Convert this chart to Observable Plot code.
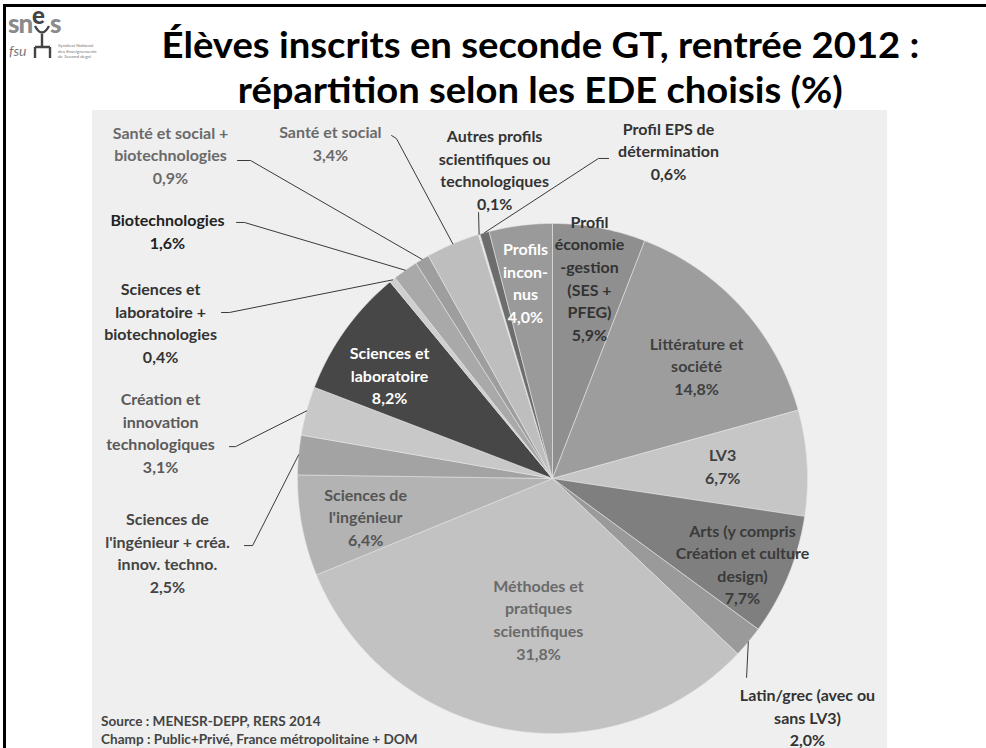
<!DOCTYPE html>
<html><head><meta charset="utf-8">
<script src="https://cdn.jsdelivr.net/npm/d3@7"></script>
<script src="https://cdn.jsdelivr.net/npm/@observablehq/plot@0.6"></script>
<style>
html,body{margin:0;padding:0;background:#fff;}
body{width:986px;height:748px;position:relative;overflow:hidden;font-family:Lato,"DejaVu Sans",sans-serif;}
#frame{position:absolute;left:3px;top:4px;width:990px;height:760px;border-top:3px solid #000;border-left:3px solid #000;}
.title{position:absolute;left:0;width:1080px;text-align:center;font-weight:700;font-size:37px;line-height:44px;color:#000;white-space:nowrap;}
.title span{display:inline-block;transform-origin:center;}
#panel{position:absolute;left:92px;top:110px;width:795px;height:638px;background:#efefef;}
#chart{position:absolute;left:0;top:0;}
.src{position:absolute;left:9px;font-weight:700;font-size:13.6px;color:#444;white-space:nowrap;}
#logo{position:absolute;left:0;top:0;}
</style></head>
<body>
<div id="frame"></div>
<svg id="logo" width="112" height="66" viewBox="0 0 112 66">
  <rect x="6" y="7" width="100" height="57" fill="#fff"/>
  <text x="8" y="33" font-family="Lato" font-weight="900" font-size="26" fill="#8a8a8a" letter-spacing="-1">sn</text>
  <text x="32" y="24" font-family="Lato" font-weight="900" font-size="24" fill="#444">e</text>
  <text x="50" y="33" font-family="Lato" font-weight="900" font-size="26" fill="#8a8a8a">s</text>
  <path d="M35 26 Q42 39 49 26 M42 34 V47 M35 47 H50 M35 47 V58 M50 47 V58" stroke="#444" stroke-width="2.4" fill="none"/>
  <text x="9" y="56" font-family="Lato" font-style="italic" font-size="14" fill="#777">fsu</text>
  <text x="58" y="47" font-family="Lato" font-size="4.6" fill="#777">Syndicat National</text>
  <text x="58" y="52.5" font-family="Lato" font-size="4.6" fill="#777">des Enseignements</text>
  <text x="58" y="58" font-family="Lato" font-size="4.6" fill="#777">de Second degré</text>
</svg>
<div class="title" style="top:22px"><span id="t1" data-w="758">Élèves inscrits en seconde GT, rentrée 2012 :</span></div>
<div class="title" style="top:67px"><span id="t2" data-w="605">répartition selon les EDE choisis (%)</span></div>
<div id="panel">
  <div id="chart"></div>
  <div class="src" style="top:603px">Source : MENESR-DEPP, RERS 2014</div>
  <div class="src" style="top:621px">Champ : Public+Privé, France métropolitaine + DOM</div>
</div>
<script>
// ---- data (clockwise from 12 o'clock) ----
const categories = [
  "Profil économie-gestion (SES + PFEG)", "Littérature et société", "LV3",
  "Arts (y compris Création et culture design)", "Latin/grec (avec ou sans LV3)",
  "Méthodes et pratiques scientifiques", "Sciences de l'ingénieur",
  "Sciences de l'ingénieur + créa. innov. techno.", "Création et innovation technologiques",
  "Sciences et laboratoire", "Sciences et laboratoire + biotechnologies", "Biotechnologies",
  "Santé et social + biotechnologies", "Santé et social",
  "Autres profils scientifiques ou technologiques", "Profil EPS de détermination", "Profils inconnus"
];
const values = [5.9, 14.8, 6.7, 7.7, 2.0, 31.8, 6.4, 2.5, 3.1, 8.2, 0.4, 1.6, 0.9, 3.4, 0.1, 0.6, 4.0];
const labelNames = [
  "Profil\néconomie\n-gestion\n(SES +\nPFEG)", "Littérature et\nsociété", "LV3",
  "Arts (y compris\nCréation et culture\ndesign)", "Latin/grec (avec ou\nsans LV3)",
  "Méthodes et\npratiques\nscientifiques", "Sciences de\nl'ingénieur",
  "Sciences de\nl'ingénieur + créa.\ninnov. techno.", "Création et\ninnovation\ntechnologiques",
  "Sciences et\nlaboratoire", "Sciences et\nlaboratoire +\nbiotechnologies", "Biotechnologies",
  "Santé et social +\nbiotechnologies", "Santé et social",
  "Autres profils\nscientifiques ou\ntechnologiques", "Profil EPS de\ndétermination", "Profils\nincon-\nnus"
];

// ---- styles ----
const sliceColors = ["#8f8f8f","#9d9d9d","#c6c6c6","#7f7f7f","#9a9a9a","#c2c2c2","#b3b3b3","#a3a3a3",
  "#c8c8c8","#474747","#cfcfcf","#a9a9a9","#9e9e9e","#bebebe","#e8e8e8","#6d6d6d","#9a9a9a"];
const labelTone = ["#333","#404040","#404040","#3a3a3a","#333","#6a6a6a","#555","#444",
  "#5a5a5a","#fff","#333","#222","#6a6a6a","#6a6a6a","#333","#333","#fff"];

// ---- layout (in pie radii, origin at pie centre, y up) ----
const labelPos = [[0.145,0.790],[0.565,0.445],[0.667,0.051],[0.745,-0.333],[1.0,-0.933],
  [-0.055,-0.549],[-0.733,-0.147],[-1.510,-0.288],[-1.537,0.184],[-0.639,0.408],
  [-1.537,0.614],[-1.510,0.973],[-1.498,1.273],[-0.871,1.318],[-0.227,1.214],[0.455,1.288],[-0.106,0.771]];
const leaderEnds = [null,null,null,null,[[0.761,-0.780]],null,null,
  [[-1.208,-0.263],[-1.176,-0.263]],[[-1.267,0.125],[-1.243,0.125]],null,
  [[-1.298,0.651],[-1.267,0.651]],[[-1.239,1.004],[-1.208,1.004]],[[-1.235,1.247],[-1.184,1.247]],
  [[-0.631,1.345],[-0.612,1.333]],[[-0.290,1.043]],[[0.220,1.255],[0.180,1.255]],null];

const total = d3.sum(values);
const fmt = v => v.toFixed(1).replace(".", ",") + "%";
let cum = 0;
const slicePts = [], leaderPts = [], labels = [];
categories.forEach((cat, i) => {
  const a0 = cum / total * 2 * Math.PI;
  cum += values[i];
  const a1 = cum / total * 2 * Math.PI;
  const n = Math.max(2, Math.ceil((a1 - a0) / (Math.PI / 360)));
  slicePts.push({cat, x: 0, y: 0});
  for (let k = 0; k <= n; k++) {
    const a = a0 + (a1 - a0) * k / n;
    slicePts.push({cat, x: Math.sin(a), y: Math.cos(a)});
  }
  slicePts.push({cat, x: 0, y: 0});
  const am = (a0 + a1) / 2;
  if (leaderEnds[i]) {
    leaderEnds[i].forEach(([x, y]) => leaderPts.push({cat, x, y}));
    leaderPts.push({cat, x: Math.sin(am), y: Math.cos(am)});
  }
  labels.push({cat, text: labelNames[i] + "\n" + fmt(values[i]), x: labelPos[i][0], y: labelPos[i][1], tone: labelTone[i]});
});

const W = 795, H = 638, R = 255, cx = 460, cy = 368;
const tones = Array.from(new Set(labelTone));
const chart = Plot.plot({
  width: W, height: H, margin: 0,
  x: {domain: [-cx / R, (W - cx) / R], range: [0, W], axis: null},
  y: {domain: [-(H - cy) / R, cy / R], range: [H, 0], axis: null},
  color: {domain: categories, range: sliceColors},
  style: {background: "transparent", fontFamily: "Lato, sans-serif"},
  marks: [
    Plot.line(slicePts, {x: "x", y: "y", z: "cat", fill: "cat", stroke: "#e4e4e4", strokeWidth: 0.6, curve: "linear"}),
    Plot.line(leaderPts, {x: "x", y: "y", z: "cat", stroke: "#3a3a3a", strokeWidth: 1}),
    ...tones.map(t => Plot.text(labels.filter(d => d.tone === t), {
      x: "x", y: "y", text: "text", fill: t, fontWeight: "bold", fontSize: 16,
      lineHeight: 1.41, lineAnchor: "middle", textAnchor: "middle"
    }))
  ]
});
document.getElementById("chart").appendChild(chart);

// fit the title lines to the reference widths
document.querySelectorAll(".title span").forEach(s => {
  const w = s.getBoundingClientRect().width;
  const target = +s.dataset.w;
  s.style.transform = `scaleX(${target / w})`;
});
</script>
</body></html>
